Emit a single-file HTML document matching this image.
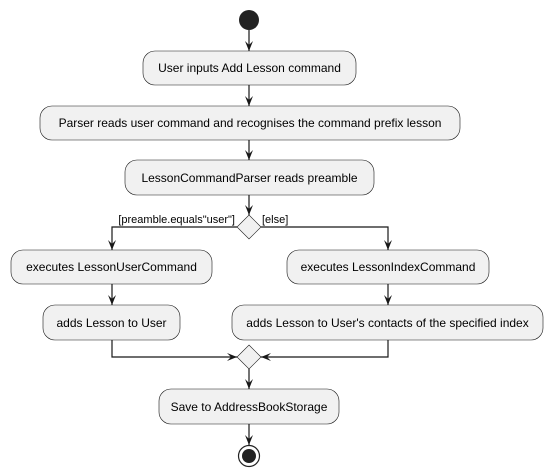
<!DOCTYPE html>
<html><head><meta charset="utf-8"><style>
html,body{margin:0;padding:0;background:#fff;}
svg{display:block;}
text{font-family:"Liberation Sans",sans-serif;font-size:12px;fill:#000;}
.b{fill:#f1f1f1;stroke:#181818;stroke-width:0.6;}
.l{stroke:#181818;stroke-width:1.2;fill:none;}
.a{fill:#181818;}
</style></head><body>
<svg width="553" height="476" viewBox="0 0 553 476">
<defs>
<marker id="ar" viewBox="0 0 10 10" refX="10" refY="5" markerWidth="10" markerHeight="10" markerUnits="userSpaceOnUse" orient="auto">
<path d="M0,1 L10,5 L0,9 L4,5 Z" class="a"/></marker>
</defs>
<circle cx="249" cy="20" r="10" fill="#222"/>
<line class="l" x1="249" y1="30" x2="249" y2="51" marker-end="url(#ar)"/>
<rect class="b" x="143" y="51" width="213" height="34" rx="12"/>
<text x="249.5" y="72" text-anchor="middle">User inputs Add Lesson command</text>
<line class="l" x1="249" y1="85" x2="249" y2="106" marker-end="url(#ar)"/>
<rect class="b" x="40" y="106" width="420" height="34" rx="12"/>
<text x="250" y="127" text-anchor="middle">Parser reads user command and recognises the command prefix lesson</text>
<line class="l" x1="249" y1="140" x2="249" y2="160" marker-end="url(#ar)"/>
<rect class="b" x="125" y="160" width="249" height="35" rx="12"/>
<text x="249.5" y="182" text-anchor="middle">LessonCommandParser reads preamble</text>
<line class="l" x1="249" y1="195" x2="249" y2="215" marker-end="url(#ar)"/>
<polygon class="b" points="249,215 261,227 249,239 237,227"/>
<text x="235" y="223" text-anchor="end" font-size="11" style="font-size:11px">[preamble.equals"user"]</text>
<text x="262" y="223" style="font-size:11px">[else]</text>
<polyline class="l" points="237,227 112,227 112,250" marker-end="url(#ar)"/>
<polyline class="l" points="261,227 388,227 388,250" marker-end="url(#ar)"/>
<rect class="b" x="11" y="250" width="201" height="34" rx="12"/>
<text x="111.5" y="271" text-anchor="middle">executes LessonUserCommand</text>
<rect class="b" x="287" y="250" width="202" height="34" rx="12"/>
<text x="388" y="271" text-anchor="middle">executes LessonIndexCommand</text>
<line class="l" x1="112" y1="284" x2="112" y2="305" marker-end="url(#ar)"/>
<line class="l" x1="388" y1="284" x2="388" y2="305" marker-end="url(#ar)"/>
<rect class="b" x="43" y="305" width="137" height="35" rx="12"/>
<text x="111.5" y="327" text-anchor="middle">adds Lesson to User</text>
<rect class="b" x="232" y="305" width="311" height="35" rx="12"/>
<text x="387.5" y="327" text-anchor="middle">adds Lesson to User's contacts of the specified index</text>
<polygon class="b" points="249,345 261,357 249,369 237,357"/>
<polyline class="l" points="112,340 112,357 237,357" marker-end="url(#ar)"/>
<polyline class="l" points="388,340 388,357 261,357" marker-end="url(#ar)"/>
<line class="l" x1="249" y1="369" x2="249" y2="389" marker-end="url(#ar)"/>
<rect class="b" x="159" y="389" width="180" height="35" rx="12"/>
<text x="249" y="411" text-anchor="middle">Save to AddressBookStorage</text>
<line class="l" x1="249" y1="424" x2="249" y2="445" marker-end="url(#ar)"/>
<circle cx="249" cy="456" r="10.5" fill="#fff" stroke="#222" stroke-width="1.2"/>
<circle cx="249" cy="456" r="7" fill="#222"/>
</svg>
</body></html>
